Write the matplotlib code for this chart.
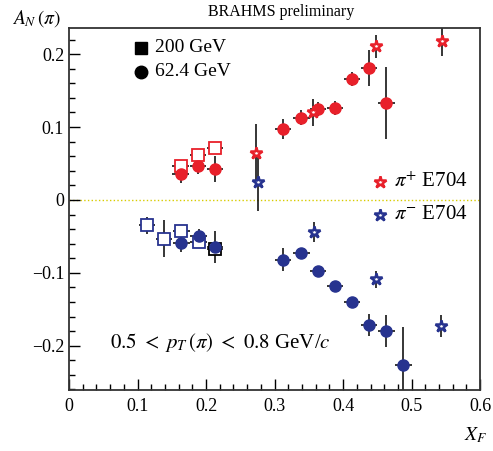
import matplotlib
matplotlib.use("Agg")
import matplotlib.pyplot as plt
from matplotlib.ticker import MultipleLocator, FuncFormatter

plt.rcParams['font.family'] = ['Liberation Serif', 'DejaVu Serif']
plt.rcParams['mathtext.fontset'] = 'stix'

RED = '#e8202a'
BLUE = '#27338f'

# 62.4 GeV, pi+ (filled red circles)
xf_pp62 = [0.163, 0.188, 0.213, 0.312, 0.339, 0.363, 0.388, 0.413, 0.438, 0.463]
an_pp62 = [0.036, 0.047, 0.042, 0.097, 0.113, 0.125, 0.126, 0.166, 0.181, 0.133]
err_pp62 = [0.013, 0.011, 0.018, 0.014, 0.010, 0.010, 0.010, 0.010, 0.025, 0.050]

# 62.4 GeV, pi- (filled blue circles)
xf_pm62 = [0.164, 0.189, 0.213, 0.312, 0.339, 0.363, 0.388, 0.413, 0.438, 0.463, 0.488]
an_pm62 = [-0.059, -0.050, -0.065, -0.082, -0.073, -0.097, -0.118, -0.140, -0.172, -0.180, -0.226]
err_pm62 = [0.012, 0.010, 0.022, 0.016, 0.006, 0.005, 0.005, 0.006, 0.015, 0.022, 0.051]

# 200 GeV, pi+ (open red squares)
xf_pp200 = [0.163, 0.188, 0.213]
an_pp200 = [0.047, 0.061, 0.071]
err_pp200 = [0.008, 0.008, 0.008]

# 200 GeV, pi- (open blue squares)
xf_pm200 = [0.114, 0.139, 0.164, 0.189]
an_pm200 = [-0.035, -0.053, -0.043, -0.058]
err_pm200 = [0.012, 0.025, 0.008, 0.008]

# 200 GeV point drawn in black
xf_blk = [0.213]
an_blk = [-0.067]
err_blk = [0.008]

# E704 stars
xf_e704p = [0.273, 0.356, 0.448, 0.545]
an_e704p = [0.064, 0.120, 0.211, 0.218]
err_e704p = [0.040, 0.018, 0.016, 0.020]

xf_e704m = [0.276, 0.358, 0.448, 0.543]
an_e704m = [0.025, -0.044, -0.109, -0.173]
err_e704m = [0.040, 0.014, 0.012, 0.015]

XERR = 0.012

fig = plt.figure(figsize=(4.93, 4.51), dpi=100)
ax = fig.add_axes([0.140, 0.135, 0.834, 0.803])

ax.axhline(0, color='#d8cc00', linestyle=':', linewidth=1.0, zorder=1)

eb = dict(ecolor='black', elinewidth=1.1, capsize=0, linestyle='none')
star = dict(marker='*', ms=9, mfc='white', mew=1.8)

ax.errorbar(xf_pm200, an_pm200, yerr=err_pm200, xerr=XERR, marker='s', ms=9,
            mfc='white', mec=BLUE, mew=1.3, **eb)
ax.errorbar(xf_blk, an_blk, yerr=err_blk, xerr=XERR, marker='s', ms=9,
            mfc='white', mec='black', mew=1.3, **eb)
ax.errorbar(xf_pp200, an_pp200, yerr=err_pp200, xerr=XERR, marker='s', ms=9,
            mfc='white', mec=RED, mew=1.3, **eb)
ax.errorbar(xf_pp62, an_pp62, yerr=err_pp62, xerr=XERR, marker='o', ms=8,
            mfc=RED, mec=RED, **eb)
ax.errorbar(xf_pm62, an_pm62, yerr=err_pm62, xerr=XERR, marker='o', ms=8,
            mfc=BLUE, mec=BLUE, **eb)
ax.errorbar(xf_e704p, an_e704p, yerr=err_e704p, mec=RED, **star, **eb)
ax.errorbar(xf_e704m, an_e704m, yerr=err_e704m, mec=BLUE, **star, **eb)

ax.set_xlim(0, 0.6)
ax.set_ylim(-0.261, 0.236)
ax.xaxis.set_major_locator(MultipleLocator(0.1))
ax.xaxis.set_minor_locator(MultipleLocator(0.02))
ax.yaxis.set_major_locator(MultipleLocator(0.1))
ax.yaxis.set_minor_locator(MultipleLocator(0.02))

def fmt(v, pos):
    if abs(v) < 1e-9:
        return '0'
    s = f'{v:.1f}'
    return s.replace('-', '\u2212')

ax.xaxis.set_major_formatter(FuncFormatter(fmt))
ax.yaxis.set_major_formatter(FuncFormatter(fmt))
ax.tick_params(which='major', direction='in', length=8, width=1.0, labelsize=13)
ax.tick_params(which='minor', direction='in', length=4, width=1.0)
ax.tick_params(axis='x', pad=6)
for sp in ax.spines.values():
    sp.set_linewidth(1.3)
    sp.set_color('#333333')

# legend (drawn by hand, like the original)
ax.plot(0.105, 0.209, marker='s', ms=9, color='black', linestyle='none')
ax.text(0.125, 0.209, '200 GeV', fontsize=14, va='center')
ax.plot(0.105, 0.176, marker='o', ms=9, color='black', linestyle='none')
ax.text(0.125, 0.176, '62.4 GeV', fontsize=14, va='center')

ax.plot(0.454, 0.025, linestyle='none', mec=RED, **star)
ax.text(0.474, 0.025, r'$\pi^{+}$ E704', fontsize=15, va='center')
ax.plot(0.454, -0.020, linestyle='none', mec=BLUE, **star)
ax.text(0.474, -0.020, r'$\pi^{-}$ E704', fontsize=15, va='center')

ax.text(0.06, -0.195, r'$0.5\ <\ p_T\,(\pi)\ <\ 0.8$ GeV/$c$', fontsize=15, va='center')

fig.text(0.57, 0.973, 'BRAHMS preliminary', fontsize=11.5, ha='center', va='center')
fig.text(0.075, 0.958, r'$A_N\,(\pi)$', fontsize=14, ha='center', va='center')
fig.text(0.965, 0.035, r'$X_F$', fontsize=14, ha='center', va='center')

fig.savefig('out.png', dpi=100)
